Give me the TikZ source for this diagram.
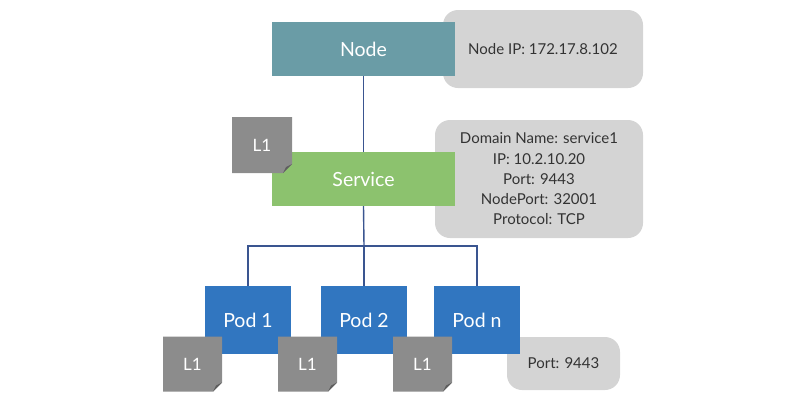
\documentclass[tikz,border=0pt]{standalone}
\usepackage{fontspec}
\setmainfont{Lato}
\definecolor{nodeteal}{HTML}{6A9CA6}
\definecolor{svcgreen}{HTML}{8CC26E}
\definecolor{podblue}{HTML}{3176C0}
\definecolor{notegray}{HTML}{8C8C8C}
\definecolor{folddark}{HTML}{5E5E5E}
\definecolor{infogray}{HTML}{D4D4D4}
\definecolor{linkblue}{HTML}{3A5590}
\tikzstyle{box}=[rectangle,
    inner sep=0pt,
    text=white,
    font=\fontsize{19.5}{23}\selectfont]
\tikzstyle{nodebox}=[box,
    fill=nodeteal,
    minimum width=183pt,
    minimum height=54pt]
\tikzstyle{svcbox}=[box,
    fill=svcgreen,
    minimum width=183pt,
    minimum height=54pt]
\tikzstyle{podbox}=[box,
    fill=podblue,
    minimum width=86pt,
    minimum height=68pt]
\tikzstyle{info}=[rectangle,
    rounded corners=15pt,
    fill=infogray,
    inner sep=0pt,
    align=center,
    text=black!80,
    font=\fontsize{15}{20.25}\selectfont]
\tikzstyle{note}=[rectangle,
    inner sep=0pt,
    minimum width=59pt,
    minimum height=55pt,
    text=white,
    font=\fontsize{17}{20}\selectfont,
    path picture={
        \fill[notegray] (path picture bounding box.north west)
            -- (path picture bounding box.north east)
            -- ([yshift=9pt]path picture bounding box.south east)
            -- ([xshift=-9pt]path picture bounding box.south east)
            -- (path picture bounding box.south west) -- cycle;
        \fill[folddark] ([yshift=9pt]path picture bounding box.south east)
            -- ([xshift=-9pt]path picture bounding box.south east)
            -- ([xshift=-6pt,yshift=6pt]path picture bounding box.south east)
            -- cycle;}]
\tikzstyle{link}=[draw=linkblue, line width=1.4pt]

\begin{document}
\begin{tikzpicture}[x=1pt,y=-1pt]
    \useasboundingbox (0,0) rectangle (800,408);
    \node (nodeinfo) [info, minimum width=200pt, minimum height=78pt] at (543,49) {Node IP: 172.17.8.102};
    \node (svcinfo) [info, minimum width=208pt, minimum height=118pt] at (539,179)
        {Domain Name: service1\\IP: 10.2.10.20\\Port: 9443\\NodePort: 32001\\Protocol: TCP};
    \node (portinfo) [info, minimum width=113pt, minimum height=53pt] at (563.5,363.5) {Port: 9443};

    \node (node) [nodebox] at (363.5,49) {Node};
    \node (svc) [svcbox] at (363.5,179) {Service};
    \node (pod1) [podbox] at (248,320) {Pod 1};
    \node (pod2) [podbox] at (364,320) {Pod 2};
    \node (podn) [podbox] at (477,320) {Pod n};
    \coordinate (bus) at (364,246);

    \draw [link] (node.south) -- (svc.north);
    \draw [link] (svc.south) -- (bus);
    \draw [link] (pod1.north) |- (bus) -| (podn.north);
    \draw [link] (bus) -- (pod2.north);

    \node (svcnote) [note, minimum width=60pt, minimum height=56pt] at (262,145) {L1};
    \node (note1) [note] at (192.5,364) {L1};
    \node (note2) [note] at (307.5,364) {L1};
    \node (noten) [note] at (422.5,364) {L1};
\end{tikzpicture}
\end{document}
